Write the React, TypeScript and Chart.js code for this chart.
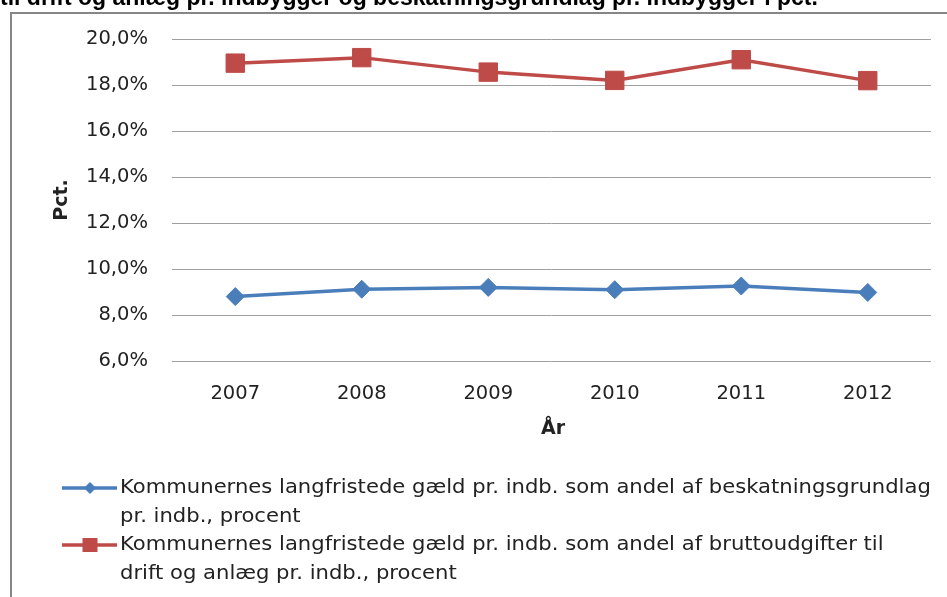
import React, { useEffect, useRef } from 'react';
import { Chart, registerables } from 'chart.js';

Chart.register(...registerables);

const years = ['2007', '2008', '2009', '2010', '2011', '2012'];
const gaeldAndelBeskatning = [8.8, 9.12, 9.2, 9.1, 9.26, 8.98];
const gaeldAndelBrutto = [18.95, 19.19, 18.56, 18.2, 19.1, 18.19];
const yMin = 6;
const yMax = 20;
const yStep = 2;
const seriesLegendLines = [
  ['Kommunernes langfristede gæld pr. indb. som andel af beskatningsgrundlag', 'pr. indb., procent'],
  ['Kommunernes langfristede gæld pr. indb. som andel af bruttoudgifter til', 'drift og anlæg pr. indb., procent'],
];
const titleText = 'til drift og anlæg pr. indbygger og beskatningsgrundlag pr. indbygger i pct.';
const yAxisTitle = 'Pct.';
const xAxisTitle = 'År';

const BLUE = '#4A7EBB';
const RED = '#BE4B48';
const TEXT = '#222222';
const FONT = '"DejaVu Sans", sans-serif';

const decorPlugin = {
  id: 'decor',
  afterDraw(chart: any) {
    const ctx = chart.ctx as CanvasRenderingContext2D;
    ctx.save();
    // cut-off title above the frame
    ctx.fillStyle = '#000';
    ctx.font = 'bold 23px "Liberation Sans", Arial, sans-serif';
    ctx.textAlign = 'left';
    ctx.textBaseline = 'alphabetic';
    ctx.fillText(titleText, 0, 5);
    // frame
    ctx.strokeStyle = '#868686';
    ctx.lineWidth = 2;
    ctx.beginPath();
    ctx.moveTo(11, 600);
    ctx.lineTo(11, 13);
    ctx.lineTo(950, 13);
    ctx.stroke();
    // axis titles
    ctx.fillStyle = TEXT;
    ctx.font = `bold 19px ${FONT}`;
    ctx.textAlign = 'center';
    ctx.textBaseline = 'middle';
    ctx.fillText(xAxisTitle, 553, 429);
    ctx.save();
    ctx.translate(62, 200);
    ctx.rotate(-Math.PI / 2);
    ctx.fillText(yAxisTitle, 0, 0);
    ctx.restore();
    // legend
    const datasets = chart.data.datasets;
    const lineH = 28.5;
    let y = 488;
    datasets.forEach((ds: any, i: number) => {
      ctx.strokeStyle = ds.borderColor;
      ctx.lineWidth = 3.5;
      ctx.beginPath();
      ctx.moveTo(62, y);
      ctx.lineTo(117, y);
      ctx.stroke();
      ctx.fillStyle = ds.pointBackgroundColor;
      ctx.beginPath();
      if (ds.pointStyle === 'rectRot') {
        const r = 6;
        ctx.moveTo(90 - r, y);
        ctx.lineTo(90, y - r);
        ctx.lineTo(90 + r, y);
        ctx.lineTo(90, y + r);
        ctx.closePath();
      } else {
        ctx.rect(90 - 7.5, y - 7, 15, 14);
      }
      ctx.fill();
      ctx.fillStyle = TEXT;
      ctx.font = `19.5px ${FONT}`;
      ctx.textAlign = 'left';
      ctx.textBaseline = 'middle';
      seriesLegendLines[i].forEach((ln: string) => {
        ctx.save();
        ctx.translate(120, y);
        ctx.scale(1.083, 1);
        ctx.fillText(ln, 0, 0);
        ctx.restore();
        y += lineH;
      });
    });
    ctx.restore();
  },
};

export default function App() {
  const ref = useRef<HTMLCanvasElement | null>(null);
  useEffect(() => {
    if (!ref.current) return;
    const chart = new Chart(ref.current, {
      type: 'line',
      data: {
        labels: years,
        datasets: [
          {
            label: seriesLegendLines[0].join(' '),
            data: gaeldAndelBeskatning,
            borderColor: BLUE,
            backgroundColor: BLUE,
            pointBackgroundColor: BLUE,
            pointBorderColor: BLUE,
            pointStyle: 'rectRot',
            pointRadius: 9,
            pointBorderWidth: 1,
            borderWidth: 3.5,
            tension: 0,
          } as any,
          {
            label: seriesLegendLines[1].join(' '),
            data: gaeldAndelBrutto,
            borderColor: RED,
            backgroundColor: RED,
            pointBackgroundColor: RED,
            pointBorderColor: RED,
            pointStyle: 'rect',
            pointRadius: 13,
            pointBorderWidth: 1,
            borderWidth: 3.5,
            tension: 0,
          } as any,
        ],
      },
      options: {
        responsive: false,
        animation: false,
        devicePixelRatio: 1,
        layout: { padding: { top: 39, right: 16, left: 0, bottom: 0 } },
        plugins: { legend: { display: false }, tooltip: { enabled: false }, title: { display: false } },
        scales: {
          x: {
            offset: true,
            grid: { display: false, drawTicks: false },
            border: { display: false },
            ticks: { color: TEXT, font: { family: FONT, size: 19.5 }, padding: 21 },
            afterFit: (s: any) => {
              s.height = 236;
            },
          },
          y: {
            min: yMin,
            max: yMax,
            grid: { color: '#a0a0a0', lineWidth: 1, drawTicks: false },
            border: { display: false },
            ticks: {
              stepSize: yStep,
              color: TEXT,
              font: { family: FONT, size: 19.5 },
              padding: 24,
              callback: (v: any) => Number(v).toFixed(1).replace('.', ',') + '%',
            },
            afterFit: (s: any) => {
              s.width = 172;
            },
          },
        },
      },
      plugins: [decorPlugin],
    });
    return () => chart.destroy();
  }, []);
  return (
    <div style={{ position: 'fixed', left: 0, top: 0, width: 947, height: 597, background: '#fff' }}>
      <canvas ref={ref} width={947} height={597} style={{ width: 947, height: 597, display: 'block' }} />
    </div>
  );
}
